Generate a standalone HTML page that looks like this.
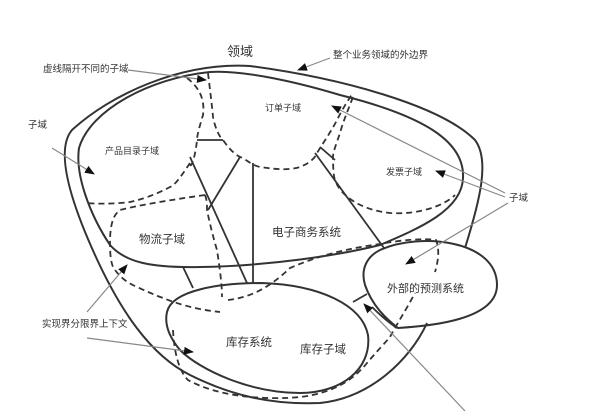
<!DOCTYPE html>
<html><head><meta charset="utf-8">
<style>
html,body{margin:0;padding:0;background:#fff;}
svg{display:block;}
text{font-family:"Liberation Sans","Noto Sans CJK SC",sans-serif;fill:#333;}
</style></head>
<body>
<svg width="600" height="411" viewBox="0 0 600 411" xmlns="http://www.w3.org/2000/svg">
<defs>
<marker id="ah" markerWidth="10" markerHeight="8" refX="9" refY="4" orient="auto" markerUnits="userSpaceOnUse">
<path d="M0,0 L10,4 L0,8 Z" fill="#111"/>
</marker>
</defs>
<g fill="none" stroke="#333" stroke-width="2">
<path d="M465,248 C480,200 490,160 475,140 C440,105 340,78 250,66 C180,62 110,95 72,130 C55,150 70,200 95,255 C120,310 150,355 190,375 C230,395 270,405 320,403 C370,398 410,360 427,323"/>
<path d="M380,245 C420,228 462,210 463,178 C465,140 420,115 340,95 C290,80 240,70 210,72 C150,78 90,110 79,148 C75,175 90,215 110,245 C125,262 150,268 200,267 C270,266 340,255 380,245"/>
<path d="M167,312 C172,290 220,283 262,283 C320,285 362,305 368,335 C372,370 340,393 300,393 C250,393 200,370 180,350 C170,338 164,325 167,312 Z"/>
<path d="M380,250 C420,232 497,240 497,285 C497,320 430,326 398,328 C385,318 372,305 365,285 C360,268 368,256 380,250 Z"/>
</g>
<g fill="none" stroke="#333" stroke-width="1.8">
<line x1="190" y1="157" x2="247" y2="283"/>
<line x1="240" y1="157" x2="208" y2="210"/>
<line x1="253" y1="163" x2="253" y2="283"/>
<line x1="315" y1="153" x2="384" y2="248"/>
<line x1="197" y1="140" x2="223" y2="140"/>
<line x1="320" y1="147" x2="335" y2="160"/>
<line x1="183" y1="267" x2="193" y2="288"/>
<line x1="353" y1="302" x2="367" y2="294"/>
<path d="M372,307 C380,315 388,322 397,328"/>
</g>
<g fill="none" stroke="#333" stroke-width="1.8" stroke-dasharray="6,4">
<path d="M187,78 C200,88 205,100 203,115 C200,125 197,135 197,140 C195,160 190,170 190,163"/>
<path d="M208,73 C210,90 212,105 213,117 C215,128 220,138 223,140 C230,150 236,156 243,158 C250,163 255,166 260,167 C280,170 290,170 300,167 C310,163 315,158 317,153 C325,140 332,130 337,120 C342,110 348,100 353,93"/>
<path d="M353,97 C348,110 343,122 340,133 C336,145 333,152 333,157 C333,170 334,178 335,180 C340,195 360,210 390,213 C420,215 445,205 455,195"/>
<path d="M190,163 C180,178 175,185 170,187 C155,195 140,200 130,202 C115,204 95,204 87,203"/>
<path d="M205,195 C170,200 140,205 120,210 C113,215 110,225 110,243 C110,255 111,262 113,267 C120,278 128,283 137,287 C150,293 160,297 163,298 C180,305 200,310 220,312"/>
<path d="M205,195 C207,200 207,205 207,210 C210,225 214,240 217,250 C220,270 222,285 222,297"/>
<path d="M173,330 C174,350 178,370 188,380 C220,398 270,400 300,397 C335,393 355,378 367,363 C378,350 385,343 390,337 C398,322 406,310 415,293"/>
<path d="M228,300 C245,298 265,292 290,268 C320,255 350,248 380,244 C400,240 425,238 436,240 C440,250 438,262 435,272"/>
</g>
<g stroke="#888" stroke-width="1.2" fill="none" marker-end="url(#ah)">
<line x1="128" y1="70" x2="206" y2="80"/>
<line x1="330" y1="58" x2="298" y2="70"/>
<line x1="52" y1="148" x2="94" y2="174"/>
<line x1="505" y1="193" x2="332" y2="106"/>
<line x1="505" y1="197" x2="436" y2="171"/>
<line x1="508" y1="203" x2="406" y2="264"/>
<line x1="87" y1="312" x2="127" y2="265"/>
<line x1="87" y1="338" x2="193" y2="352"/>
<line x1="465" y1="411" x2="364" y2="304"/>
</g>
<g>
<text x="227" y="56" font-size="13">领域</text>
<text x="333" y="58" font-size="9.5">整个业务领域的外边界</text>
<text x="43" y="72" font-size="9.5">虚线隔开不同的子域</text>
<text x="28" y="128" font-size="9.5">子域</text>
<text x="105" y="154" font-size="9">产品目录子域</text>
<text x="265" y="111" font-size="9">订单子域</text>
<text x="386" y="175" font-size="9">发票子域</text>
<text x="509" y="201" font-size="9.5">子域</text>
<text x="139" y="243" font-size="11.5">物流子域</text>
<text x="272" y="236" font-size="11.5">电子商务系统</text>
<text x="387" y="292" font-size="11">外部的预测系统</text>
<text x="42" y="327" font-size="9.5">实现界分限界上下文</text>
<text x="226" y="346" font-size="11.5">库存系统</text>
<text x="300" y="353" font-size="11.5">库存子域</text>
</g>
</svg>
</body></html>
